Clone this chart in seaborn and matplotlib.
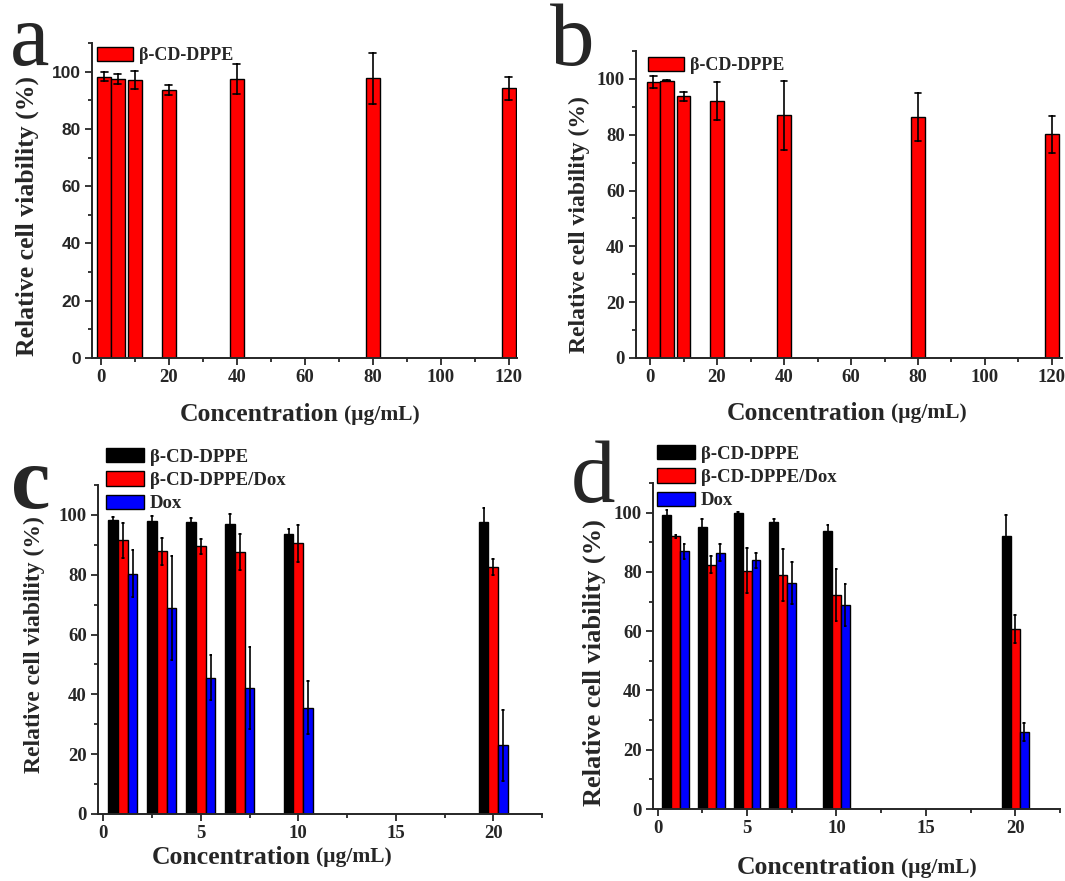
import numpy as np
import pandas as pd
import matplotlib
matplotlib.use("Agg")
import matplotlib.pyplot as plt
from matplotlib.patches import Patch
from matplotlib.ticker import MultipleLocator
import seaborn as sns

# Concentrations (ug/mL)
conc_ab = [1, 5, 10, 20, 40, 80, 120]
conc_cd = [1, 3, 5, 7, 10, 20]

# panel a / b : carrier only
a_mean = [98.3, 97.4, 97.0, 93.5, 97.3, 97.7, 94.2]
a_sd = [1.5, 1.6, 3.2, 1.8, 5.2, 8.9, 4.1]
b_mean = [99.0, 99.4, 93.7, 92.0, 86.9, 86.4, 80.1]
b_sd = [2.2, 0.3, 1.7, 6.8, 12.5, 8.5, 6.7]

# panel c
c_carrier = [98.3, 98.0, 97.5, 97.1, 93.6, 97.5]
c_carrier_sd = [1.1, 1.8, 1.6, 3.2, 1.6, 4.9]
c_loaded = [91.5, 87.9, 89.5, 87.6, 90.5, 82.6]
c_loaded_sd = [5.9, 4.5, 2.5, 6.0, 6.1, 2.7]
c_dox = [80.4, 68.8, 45.5, 42.1, 35.6, 23.0]
c_dox_sd = [8.0, 17.4, 7.5, 13.8, 8.8, 11.9]

# panel d
d_carrier = [99.3, 95.2, 99.9, 96.9, 93.9, 92.2]
d_carrier_sd = [1.5, 2.5, 0.3, 1.1, 2.0, 7.0]
d_loaded = [92.0, 82.5, 80.4, 78.9, 72.1, 60.7]
d_loaded_sd = [0.5, 2.7, 7.5, 8.8, 8.8, 4.6]
d_dox = [86.9, 86.5, 83.9, 76.3, 68.9, 26.0]
d_dox_sd = [2.5, 2.9, 2.6, 7.2, 7.1, 2.9]

series_names = ["β-CD-DPPE", "β-CD-DPPE/Dox", "Dox"]
series_colors = {"β-CD-DPPE": "black", "β-CD-DPPE/Dox": "#ff0000", "Dox": "#0000ff"}
single_color = {"β-CD-DPPE": "#ff0000"}

W, H = 1065, 881
SERIF = "Liberation Serif"
SANS = "Liberation Sans"

sns.set_style("ticks")
plt.rcParams["font.family"] = [SERIF, "DejaVu Serif"]


def long_table(conc, series):
    """mean +/- sd -> two rows per bar so the errorbar is min..max"""
    rows = []
    for name, mean, sd in series:
        for x, m, s in zip(conc, mean, sd):
            rows.append({"conc": x, "series": name, "value": m - s})
            rows.append({"conc": x, "series": name, "value": m + s})
    return pd.DataFrame(rows)


def box(left, top, right, bottom):
    return [left / W, 1 - bottom / H, (right - left) / W, (bottom - top) / H]


def style_axes(ax, xlim, xmajor, tick_font):
    ax.set_ylim(0, 110)
    ax.set_xlim(*xlim)
    ax.yaxis.set_major_locator(MultipleLocator(20))
    ax.yaxis.set_minor_locator(MultipleLocator(10))
    ax.xaxis.set_major_locator(MultipleLocator(xmajor))
    ax.xaxis.set_minor_locator(MultipleLocator(xmajor / 2))
    ax.set_yticks([0, 20, 40, 60, 80, 100])
    ax.tick_params(which="major", direction="out", length=5, width=1.3, pad=3)
    ax.tick_params(which="minor", direction="out", length=3, width=1.3)
    for lab in ax.get_xticklabels():
        lab.set_fontfamily(SERIF)
        lab.set_fontweight("bold")
        lab.set_fontsize(13.5)
    for lab in ax.get_yticklabels():
        lab.set_fontfamily(tick_font)
        lab.set_fontweight("bold")
        lab.set_fontsize(13.5 if tick_font == SERIF else 12.5)
    for s in ["left", "bottom"]:
        ax.spines[s].set_linewidth(1.4)
    sns.despine(ax=ax)
    ax.set_xlabel("")
    ax.set_ylabel("")


def add_legend(ax, names, colors, x, y, fs):
    handles = [Patch(facecolor=colors[n], edgecolor="black", linewidth=1) for n in names]
    ax.legend(handles, names, loc="upper left", bbox_to_anchor=(x / W, 1 - y / H),
              bbox_transform=fig.transFigure, frameon=False, borderpad=0, borderaxespad=0,
              handlelength=2.0, handleheight=0.8, handletextpad=0.35, labelspacing=0.3,
              prop={"family": SERIF, "weight": "bold", "size": fs})


fig = plt.figure(figsize=(W / 100, H / 100), dpi=100)

ax_a = fig.add_axes(box(92, 43, 517, 358))
ax_b = fig.add_axes(box(636, 51, 1062, 358))
ax_c = fig.add_axes(box(98, 485, 542, 814))
ax_d = fig.add_axes(box(653, 483, 1060, 809))

err_style = {"color": "black", "linewidth": 1.2}

# a, b
for ax, mean, sd in [(ax_a, a_mean, a_sd), (ax_b, b_mean, b_sd)]:
    df = long_table(conc_ab, [("β-CD-DPPE", mean, sd)])
    sns.barplot(data=df, x="conc", y="value", hue="series", palette=single_color,
                native_scale=True, width=1.0, dodge=False, saturation=1,
                estimator="mean", errorbar=lambda v: (v.min(), v.max()),
                capsize=0.5, err_kws=err_style, edgecolor="black", linewidth=1,
                legend=False, ax=ax)

# c, d
for ax, s1, e1, s2, e2, s3, e3 in [
    (ax_c, c_carrier, c_carrier_sd, c_loaded, c_loaded_sd, c_dox, c_dox_sd),
    (ax_d, d_carrier, d_carrier_sd, d_loaded, d_loaded_sd, d_dox, d_dox_sd),
]:
    df = long_table(conc_cd, [(series_names[0], s1, e1), (series_names[1], s2, e2),
                              (series_names[2], s3, e3)])
    sns.barplot(data=df, x="conc", y="value", hue="series", hue_order=series_names,
                palette=series_colors, native_scale=True, width=0.75, dodge=True,
                saturation=1, estimator="mean", errorbar=lambda v: (v.min(), v.max()),
                capsize=0.15, err_kws=err_style, edgecolor="black", linewidth=1,
                legend=False, ax=ax)

style_axes(ax_a, (-2.6, 122.4), 20, SANS)
style_axes(ax_b, (-4.2, 123.0), 20, SERIF)
style_axes(ax_c, (-0.27, 22.5), 5, SERIF)
style_axes(ax_d, (-0.26, 22.5), 5, SERIF)

add_legend(ax_a, series_names[:1], single_color, 97, 47, 13)
add_legend(ax_b, series_names[:1], single_color, 648, 57, 13)
add_legend(ax_c, series_names, series_colors, 106, 448, 13.5)
add_legend(ax_d, series_names, series_colors, 657, 445, 13.5)

# y axis titles (the sub-figures were scaled a little differently)
ylab = "Relative cell viability (%)"
for x, y, fs in [(27, 216, 18.5), (579, 225, 17), (34, 645, 17), (594, 663, 19)]:
    fig.text(x / W, 1 - y / H, ylab, rotation=90, ha="center", va="center",
             fontsize=fs, fontweight="bold", family=SERIF)

# x axis titles: big word + smaller unit
renderer = fig.canvas.get_renderer()
for x, y in [(180, 415), (727, 413), (152, 857), (737, 868)]:
    t = fig.text(x / W, 1 - y / H, "Concentration", ha="left", va="center",
                 fontsize=18.5, fontweight="bold", family=SERIF)
    x1 = t.get_window_extent(renderer=renderer).x1
    fig.text((x1 + 5) / W, 1 - y / H, "(μg/mL)", ha="left", va="center",
             fontsize=15.5, fontweight="bold", family=SERIF)

# panel letters
for letter, x, y, wt in [("a", 30, 65, "normal"), ("b", 572, 65, "normal"),
                         ("c", 31, 508, "bold"), ("d", 593, 502, "normal")]:
    fig.text(x / W, 1 - y / H, letter, ha="center", va="baseline",
             fontsize=64, fontweight=wt, family=SERIF)

fig.savefig("out.png", dpi=100)
